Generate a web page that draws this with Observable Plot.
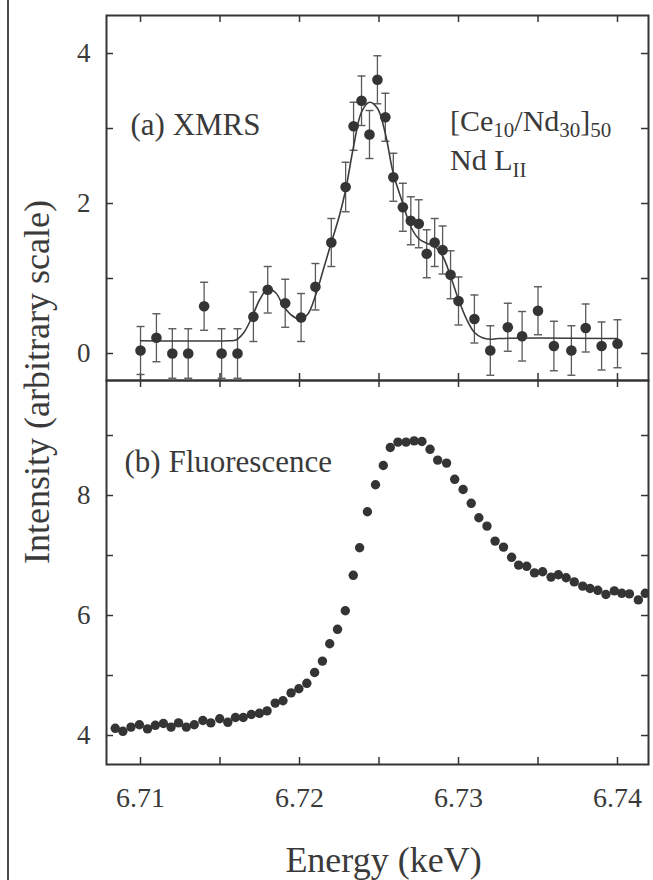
<!DOCTYPE html>
<html>
<head>
<meta charset="utf-8">
<script src="https://cdn.jsdelivr.net/npm/d3@7"></script>
<script src="https://cdn.jsdelivr.net/npm/@observablehq/plot@0.6"></script>
<style>
  html, body { margin: 0; padding: 0; background: #ffffff; }
  #wrap { position: relative; width: 653px; height: 880px; overflow: hidden; background: #ffffff; font-family: "Liberation Serif", "Tinos", "DejaVu Serif", serif; }
  #wrap > svg, #wrap > figure { position: absolute; left: 0; margin: 0; }
  #scanEdge { position: absolute; left: 7px; top: 0; width: 2px; height: 880px; background: #4a4a4a; }
  #ytitle { position: absolute; left: 37px; top: 382px; transform: translate(-50%, -50%) rotate(-90deg);
            white-space: nowrap; font-size: 36px; color: #3a3a3a; line-height: 1; }
  .ft { position: absolute; left: 200px; font-size: 20px; color: #000; }
</style>
</head>
<body>
<div id="wrap">
  <div id="scanEdge"></div>
  <div id="ytitle">Intensity (arbitrary scale)</div>
</div>
<script>
// ---------- data ----------
const xmrsEnergy = [6.7100, 6.7110, 6.7120, 6.7130, 6.7140, 6.7151, 6.7161, 6.7171, 6.7180, 6.7191,
  6.7201, 6.7210, 6.7220, 6.7229, 6.7234, 6.7239, 6.7244, 6.7249, 6.7254, 6.7259,
  6.7265, 6.7270, 6.7275, 6.7280, 6.7285, 6.7290, 6.7295, 6.7300, 6.7310, 6.7320,
  6.7331, 6.7340, 6.7350, 6.7360, 6.7371, 6.7380, 6.7390, 6.7400];
const xmrsIntensity = [0.04, 0.21, 0.00, 0.00, 0.63, 0.00, 0.00, 0.49, 0.85, 0.67,
  0.48, 0.89, 1.48, 2.22, 3.03, 3.37, 2.92, 3.65, 3.15, 2.35,
  1.95, 1.77, 1.73, 1.33, 1.48, 1.38, 1.05, 0.70, 0.46, 0.04,
  0.35, 0.23, 0.57, 0.10, 0.04, 0.34, 0.10, 0.13];
const xmrsError = [0.32, 0.32, 0.33, 0.33, 0.32, 0.33, 0.33, 0.33, 0.31, 0.32,
  0.32, 0.31, 0.32, 0.33, 0.32, 0.33, 0.32, 0.32, 0.32, 0.32,
  0.32, 0.32, 0.32, 0.32, 0.32, 0.32, 0.32, 0.32, 0.32, 0.33,
  0.32, 0.33, 0.32, 0.33, 0.33, 0.32, 0.32, 0.32];

const fitEnergy = [6.7100, 6.7155, 6.7160, 6.7165, 6.7170, 6.7175, 6.7180, 6.7185, 6.7190, 6.7195,
  6.7200, 6.7205, 6.7210, 6.7215, 6.7220, 6.7225, 6.7229, 6.7234, 6.7239, 6.7244,
  6.7249, 6.7254, 6.7259, 6.7265, 6.7270, 6.7275, 6.7280, 6.7285, 6.7290, 6.7295,
  6.7300, 6.7305, 6.7310, 6.7315, 6.7320, 6.7325, 6.7400];
const fitIntensity = [0.17, 0.17, 0.18, 0.28, 0.48, 0.72, 0.86, 0.81, 0.63, 0.51,
  0.46, 0.52, 0.77, 1.12, 1.48, 1.83, 2.18, 2.76, 3.22, 3.35,
  3.27, 2.93, 2.40, 2.00, 1.69, 1.53, 1.47, 1.43, 1.30, 1.03,
  0.72, 0.46, 0.28, 0.21, 0.19, 0.20, 0.20];

const fluoEnergy = [6.70841, 6.70889, 6.70940, 6.70993, 6.71044, 6.71093, 6.71144, 6.71192, 6.71239, 6.71288,
  6.71338, 6.71392, 6.71442, 6.71498, 6.71549, 6.71597, 6.71646, 6.71697, 6.71748, 6.71796,
  6.71847, 6.71896, 6.71947, 6.71996, 6.72046, 6.72095, 6.72144, 6.72190, 6.72239, 6.72288,
  6.72338, 6.72378, 6.72427, 6.72478, 6.72527, 6.72571, 6.72619, 6.72670, 6.72721, 6.72770,
  6.72821, 6.72869, 6.72925, 6.72976, 6.73029, 6.73080, 6.73128, 6.73179, 6.73230, 6.73283,
  6.73334, 6.73378, 6.73429, 6.73478, 6.73529, 6.73582, 6.73628, 6.73677, 6.73728, 6.73781,
  6.73827, 6.73876, 6.73927, 6.73980, 6.74027, 6.74075, 6.74131, 6.74175];
const fluoIntensity = [4.12, 4.07, 4.14, 4.18, 4.11, 4.17, 4.20, 4.14, 4.21, 4.14,
  4.18, 4.25, 4.21, 4.28, 4.22, 4.30, 4.30, 4.35, 4.37, 4.41,
  4.54, 4.58, 4.71, 4.78, 4.87, 5.05, 5.24, 5.53, 5.77, 6.08,
  6.67, 7.13, 7.73, 8.18, 8.50, 8.80, 8.89, 8.89, 8.91, 8.90,
  8.77, 8.59, 8.54, 8.27, 8.10, 7.87, 7.63, 7.49, 7.24, 7.14,
  6.97, 6.84, 6.82, 6.71, 6.73, 6.64, 6.68, 6.63, 6.56, 6.49,
  6.45, 6.42, 6.35, 6.41, 6.37, 6.36, 6.26, 6.37];

const xTickValues = [6.71, 6.715, 6.72, 6.725, 6.73, 6.735, 6.74];
const xTickLabels = [6.71, 6.72, 6.73, 6.74];
const yTicksA = [0, 1, 2, 3, 4];
const yLabelsA = [0, 2, 4];
const yTicksB = [4, 5, 6, 7, 8, 9];
const yLabelsB = [4, 6, 8];

// ---------- layout / style ----------
const W = 653, ML = 106, MR = 5;
const PW = W - ML - MR;
const TOP_A = 15, SEP = 380, BOT_B = 764;
const PH_A = SEP - TOP_A, PH_B = BOT_B - SEP;
const X_DOMAIN = [6.70786, 6.74195];
const INK = "#343434", TEXT = "#3a3a3a", ERR = "#5a5a5a";
const TL = 7;
const FONT = "'Liberation Serif', 'Tinos', 'DejaVu Serif', serif";

const xmrs = xmrsEnergy.map((e, i) => ({e, v: xmrsIntensity[i], err: xmrsError[i]}));
const fit = fitEnergy.map((e, i) => ({e, v: fitIntensity[i]}));
const fluo = fluoEnergy.map((e, i) => ({e, v: fluoIntensity[i]}));

const capSymbol = {draw(ctx, size) { const w = Math.sqrt(size / Math.PI); ctx.moveTo(-w, 0); ctx.lineTo(w, 0); }};

function innerTicks(yt, ph) {
  return [
    Plot.tickX(xTickValues, {x: d => d, insetTop: ph - TL, stroke: INK, strokeWidth: 1.5}),
    Plot.tickX(xTickValues, {x: d => d, insetBottom: ph - TL, stroke: INK, strokeWidth: 1.5}),
    Plot.tickY(yt, {y: d => d, insetRight: PW - TL, stroke: INK, strokeWidth: 1.5}),
    Plot.tickY(yt, {y: d => d, insetLeft: PW - TL, stroke: INK, strokeWidth: 1.5})
  ];
}

const plotA = Plot.plot({
  width: W, height: SEP + 1,
  marginLeft: ML, marginRight: MR, marginTop: TOP_A, marginBottom: 1,
  x: {domain: X_DOMAIN, axis: null},
  y: {domain: [-0.36, 4.507]},
  style: {fontFamily: FONT, color: TEXT, background: "transparent", overflow: "visible"},
  marks: [
    ...innerTicks(yTicksA, PH_A),
    Plot.axisY(yLabelsA, {tickSize: 0, tickPadding: 16, fontSize: 27, label: null, tickFormat: d => String(d)}),
    Plot.ruleX(xmrs, {x: "e", y1: d => d.v - d.err, y2: d => d.v + d.err, stroke: ERR, strokeWidth: 1.3}),
    Plot.dot(xmrs, {x: "e", y: d => d.v + d.err, symbol: capSymbol, r: 4, fill: "none", stroke: ERR, strokeWidth: 1.4}),
    Plot.dot(xmrs, {x: "e", y: d => d.v - d.err, symbol: capSymbol, r: 4, fill: "none", stroke: ERR, strokeWidth: 1.4}),
    Plot.line(fit, {x: "e", y: "v", curve: "catmull-rom", stroke: "#3c3c3c", strokeWidth: 1.6}),
    Plot.dot(xmrs, {x: "e", y: "v", r: 5.3, fill: INK, stroke: "none"}),
    Plot.text(["(a) XMRS"], {frameAnchor: "top-left", dx: 24, dy: 119, lineAnchor: "bottom", textAnchor: "start", fontSize: 31, fill: TEXT}),
    Plot.frame({stroke: INK, strokeWidth: 2})
  ]
});
plotA.style.top = "0px";

// composition label with subscripts
const gA = d3.select(plotA).append("g").attr("fill", TEXT).attr("font-family", FONT).attr("text-anchor", "start");
const t1 = gA.append("text").attr("x", ML + 344).attr("y", 131).attr("font-size", 30);
t1.append("tspan").text("[Ce");
t1.append("tspan").attr("font-size", 21).attr("dy", 6).text("10");
t1.append("tspan").attr("dy", -6).text("/Nd");
t1.append("tspan").attr("font-size", 21).attr("dy", 6).text("30");
t1.append("tspan").attr("dy", -6).text("]");
t1.append("tspan").attr("font-size", 21).attr("dy", 6).text("50");
const t2 = gA.append("text").attr("x", ML + 344).attr("y", 170).attr("font-size", 30);
t2.append("tspan").text("Nd L");
t2.append("tspan").attr("font-size", 21).attr("dy", 7).text("II");

const plotB = Plot.plot({
  width: W, height: 880 - SEP,
  marginLeft: ML, marginRight: MR, marginTop: 0, marginBottom: 880 - BOT_B,
  x: {domain: X_DOMAIN},
  y: {domain: [3.517, 9.917]},
  style: {fontFamily: FONT, color: TEXT, background: "transparent", overflow: "visible"},
  marks: [
    ...innerTicks(yTicksB, PH_B),
    Plot.axisX(xTickLabels, {tickSize: 0, tickPadding: 23, fontSize: 28, label: null, tickFormat: d3.format(".2f")}),
    Plot.axisY(yLabelsB, {tickSize: 0, tickPadding: 16, fontSize: 27, label: null, tickFormat: d => String(d)}),
    Plot.dot(fluo, {x: "e", y: "v", r: 4.7, fill: INK, stroke: "none", clip: true}),
    Plot.text(["(b) Fluorescence"], {frameAnchor: "top-left", dx: 18, dy: 91, lineAnchor: "bottom", textAnchor: "start", fontSize: 31, fill: TEXT}),
    Plot.text(["Energy (keV)"], {frameAnchor: "bottom", dx: 6, dy: 107, lineAnchor: "bottom", fontSize: 36, fill: TEXT}),
    Plot.frame({stroke: INK, strokeWidth: 2})
  ]
});
plotB.style.top = SEP + "px";

const wrap = document.getElementById("wrap");
wrap.appendChild(plotB);
wrap.appendChild(plotA);
</script>
</body>
</html>
